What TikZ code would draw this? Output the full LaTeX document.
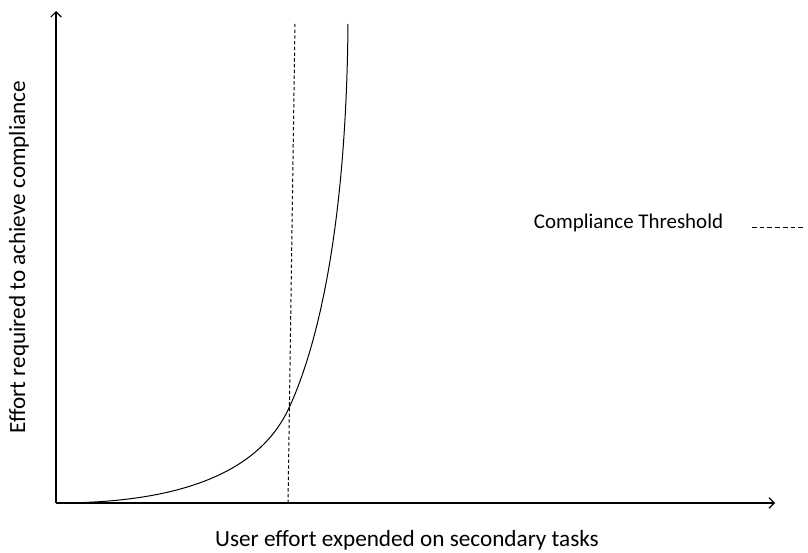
\documentclass[tikz,border=0pt]{standalone}
\usepackage{fontspec}
\setmainfont{Carlito}
\usetikzlibrary{arrows.meta}

\tikzset{
	axislabel/.style={font=\fontsize{17.4}{20}\selectfont, inner sep=0pt},
	legendlabel/.style={font=\fontsize{15.7}{18}\selectfont, inner sep=0pt},
	threshold/.style={dash pattern=on 2.5pt off 1.8pt, line width=0.75pt},
	legendline/.style={dash pattern=on 3.5pt off 2.3pt, line width=0.75pt}
}

\begin{document}
\begin{tikzpicture}[x=0.75pt,y=-0.75pt,>={Straight Barb[length=4pt,width=8pt]}]
	\useasboundingbox (0,0) rectangle (808,553);

	% axes
	\coordinate (o) at (56,503);
	\coordinate (xend) at (775,503);
	\coordinate (yend) at (56,11);
	\draw[->,line width=0.8pt] (o) -- (xend);
	\draw[->,line width=0.8pt] (o) -- (yend);

	% axis labels
	\node[axislabel] (xlabel) at (407,540) {User effort expended on secondary tasks};
	\node[axislabel,rotate=90] (ylabel) at (19,257) {Effort required to achieve compliance};

	% effort curve
	\coordinate (c0) at (57,503);
	\coordinate (c1) at (288,410);
	\coordinate (c2) at (348,24);
	\draw[line width=0.75pt] (c0) .. controls (200,503) and (263,462) .. (c1)
		.. controls (308,368) and (346,260) .. (c2);

	% threshold line
	\coordinate (tbot) at (288,503);
	\coordinate (ttop) at (295,23);
	\draw[threshold] (tbot) -- (ttop);

	% legend
	\node[legendlabel] (legend) at (628.5,223) {Compliance Threshold};
	\coordinate (la) at (752,227);
	\coordinate (lb) at (806,227);
	\draw[legendline] (la) -- (lb);
\end{tikzpicture}
\end{document}
